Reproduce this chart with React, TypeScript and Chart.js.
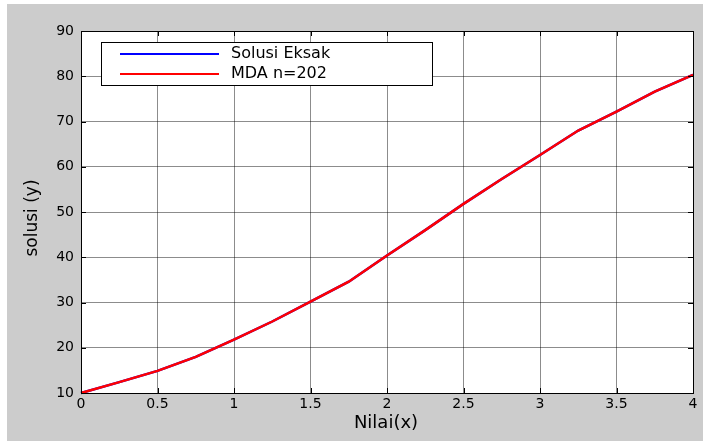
import { useEffect, useRef } from 'react';
import { Chart, registerables } from 'chart.js';

Chart.register(...registerables);

// ---- data ----
const xValues = [0, 0.25, 0.5, 0.75, 1, 1.25, 1.5, 1.75, 2, 2.25, 2.5, 2.75, 3, 3.25, 3.5, 3.75, 4];
const solusiEksak = [10, 12.4, 14.9, 18.0, 21.8, 25.8, 30.2, 34.6, 40.4, 46.0, 51.8, 57.3, 62.6, 68.0, 72.2, 76.6, 80.3];
const mdaN202 = [10, 12.4, 14.9, 18.0, 21.8, 25.8, 30.2, 34.6, 40.4, 46.0, 51.8, 57.3, 62.6, 68.0, 72.2, 76.6, 80.3];
const seriesNames = ['Solusi Eksak', 'MDA n=202'];
const xTitle = 'Nilai(x)';
const yTitle = 'solusi (y)';
const xMin = 0, xMax = 4, xStep = 0.5;
const yMin = 10, yMax = 90, yStep = 10;

const FONT = '"DejaVu Sans", sans-serif';
const W = 723, H = 441;

const fmt = (v: any) => String(parseFloat(Number(v).toFixed(3)));

const matlabPlugin = {
  id: 'matlabFrame',
  beforeDraw(chart: any) {
    const { ctx, chartArea } = chart;
    const { left, top, right, bottom } = chartArea;
    ctx.save();
    ctx.fillStyle = '#ffffff';
    ctx.fillRect(0, 0, W, H);
    ctx.fillStyle = '#cccccc';
    ctx.fillRect(7, 4, 696, 437);
    ctx.fillStyle = '#ffffff';
    ctx.fillRect(left, top, right - left, bottom - top);
    ctx.restore();
  },
  afterDraw(chart: any) {
    const { ctx, chartArea, scales } = chart;
    const { left, top, right, bottom } = chartArea;
    ctx.save();
    // axes box
    ctx.strokeStyle = '#000';
    ctx.lineWidth = 1;
    ctx.strokeRect(Math.round(left) + 0.5, Math.round(top) + 0.5, Math.round(right - left), Math.round(bottom - top));
    // inward ticks
    const tl = 5;
    ctx.beginPath();
    scales.x.ticks.forEach((t: any) => {
      const px = Math.round(scales.x.getPixelForValue(t.value)) + 0.5;
      ctx.moveTo(px, bottom); ctx.lineTo(px, bottom - tl);
      ctx.moveTo(px, top); ctx.lineTo(px, top + tl);
    });
    scales.y.ticks.forEach((t: any) => {
      const py = Math.round(scales.y.getPixelForValue(t.value)) + 0.5;
      ctx.moveTo(left, py); ctx.lineTo(left + tl, py);
      ctx.moveTo(right, py); ctx.lineTo(right - tl, py);
    });
    ctx.stroke();

    // axis titles
    ctx.fillStyle = '#000';
    ctx.font = `18px ${FONT}`;
    ctx.textAlign = 'center';
    ctx.textBaseline = 'middle';
    ctx.fillText(xTitle, 386, 423);
    ctx.save();
    ctx.translate(33, 218);
    ctx.rotate(-Math.PI / 2);
    ctx.font = `17px ${FONT}`;
    ctx.fillText(yTitle, 0, 0);
    ctx.restore();

    // legend
    const lx = 101.5, ly = 42.5, lw = 331, lh = 43;
    ctx.fillStyle = '#fff';
    ctx.fillRect(lx, ly, lw, lh);
    ctx.strokeStyle = '#000';
    ctx.lineWidth = 1;
    ctx.strokeRect(lx, ly, lw, lh);
    const colors = ['#0000ff', '#ff0000'];
    const rows = [54, 74];
    ctx.font = `16px ${FONT}`;
    ctx.textAlign = 'left';
    ctx.textBaseline = 'middle';
    seriesNames.forEach((name, i) => {
      ctx.strokeStyle = colors[i];
      ctx.lineWidth = 2;
      ctx.beginPath();
      ctx.moveTo(120, rows[i]);
      ctx.lineTo(219, rows[i]);
      ctx.stroke();
      ctx.fillStyle = '#000';
      ctx.fillText(name, 231, rows[i]);
    });
    ctx.restore();
  },
};

export default function App() {
  const ref = useRef<HTMLCanvasElement | null>(null);
  useEffect(() => {
    if (!ref.current) return;
    const chart = new Chart(ref.current, {
      type: 'line',
      data: {
        datasets: [
          {
            label: seriesNames[0],
            data: xValues.map((x, i) => ({ x, y: solusiEksak[i] })),
            borderColor: '#0000ff',
            borderWidth: 2.5,
            pointRadius: 0,
            tension: 0,
            order: 1,
            clip: false as any,
          },
          {
            label: seriesNames[1],
            data: xValues.map((x, i) => ({ x, y: mdaN202[i] })),
            borderColor: '#ff0000',
            borderWidth: 2.5,
            pointRadius: 0,
            tension: 0,
            order: 0,
            clip: false as any,
          },
        ],
      },
      options: {
        responsive: false,
        animation: false,
        layout: { padding: { top: 31, right: 30, left: 0, bottom: 0 } },
        plugins: { legend: { display: false }, tooltip: { enabled: false } },
        scales: {
          x: {
            type: 'linear',
            min: xMin,
            max: xMax,
            ticks: { stepSize: xStep, color: '#000', font: { family: FONT, size: 14 }, padding: 3, maxRotation: 0, callback: fmt },
            grid: { color: 'rgba(0,0,0,0.45)', drawTicks: false },
            border: { display: false },
            afterFit: (s: any) => { s.height = 48; },
          },
          y: {
            type: 'linear',
            min: yMin,
            max: yMax,
            ticks: { stepSize: yStep, color: '#000', font: { family: FONT, size: 14 }, padding: 7, callback: fmt },
            grid: { color: 'rgba(0,0,0,0.45)', drawTicks: false },
            border: { display: false },
            afterFit: (s: any) => { s.width = 81; },
          },
        },
      },
      plugins: [matlabPlugin],
    });
    return () => chart.destroy();
  }, []);
  return (
    <canvas
      ref={ref}
      width={W}
      height={H}
      style={{ position: 'absolute', left: 0, top: 0, width: W, height: H, display: 'block' }}
    />
  );
}
